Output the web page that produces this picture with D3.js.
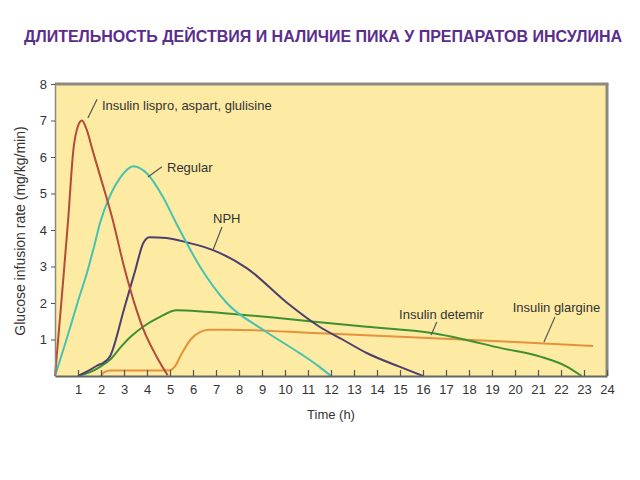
<!DOCTYPE html>
<html>
<head>
<meta charset="utf-8">
<script src="https://cdn.jsdelivr.net/npm/d3@7"></script>
<style>
  html, body { margin: 0; padding: 0; background: #ffffff; }
  svg { display: block; }
  text { font-family: "Liberation Sans", Arial, sans-serif; }
</style>
</head>
<body>
<svg id="chart" width="640" height="480"></svg>
<script>
// ---------- DATA ----------
const title = "ДЛИТЕЛЬНОСТЬ ДЕЙСТВИЯ И НАЛИЧИЕ ПИКА У ПРЕПАРАТОВ ИНСУЛИНА";
const xLabel = "Time (h)";
const yLabel = "Glucose infusion rate  (mg/kg/min)";
const xTicks = d3.range(1, 25);
const yTicks = [1, 2, 3, 4, 5, 6, 7, 8];

const seriesNames = ["Insulin lispro, aspart, glulisine", "Regular", "NPH", "Insulin detemir", "Insulin glargine"];

const lisproT = [0, 0.3, 0.57, 0.8, 1.0, 1.17, 1.35, 1.65, 2.0, 2.5, 3.0, 3.4, 3.83, 4.4, 4.9];
const lisproV = [0, 2.2, 4.27, 6.2, 6.85, 7.0, 6.8, 6.15, 5.4, 4.3, 3.0, 2.1, 1.3, 0.55, 0.02];

const regularT = [0, 0.5, 1.0, 1.4, 1.7, 1.96, 2.4, 2.85, 3.4, 4.0, 4.7, 5.3, 6.3, 7.47, 9.06, 10.65, 11.5, 12.0];
const regularV = [0, 1.0, 2.05, 2.85, 3.55, 4.2, 4.95, 5.45, 5.75, 5.55, 4.9, 4.15, 3.0, 2.0, 1.26, 0.62, 0.25, 0];

const nphT = [1.0, 1.5, 1.87, 2.1, 2.4, 3.0, 3.5, 3.83, 4.1, 4.85, 5.8, 6.87, 8.35, 10.1, 11.5, 12.5, 13.55, 15.0, 16.0];
const nphV = [0, 0.16, 0.3, 0.36, 0.55, 1.83, 2.92, 3.63, 3.8, 3.78, 3.65, 3.45, 2.95, 2.0, 1.35, 1.0, 0.63, 0.25, 0];

const detemirT = [1.0, 1.5, 1.96, 2.4, 2.83, 3.3, 3.83, 4.5, 5.3, 6.5, 7.75, 9.5, 11.5, 13.55, 16.45, 17.6, 19.35, 21.1, 22.25, 22.9];
const detemirV = [0, 0.1, 0.25, 0.45, 0.77, 1.08, 1.35, 1.6, 1.8, 1.76, 1.7, 1.6, 1.47, 1.35, 1.17, 1.03, 0.77, 0.53, 0.26, 0];

const glargineT = [2.0, 2.15, 2.4, 3.0, 4.0, 5.0, 5.2, 5.5, 5.9, 6.3, 6.7, 7.5, 11.5, 16.0, 20.0, 23.4];
const glargineV = [0, 0.11, 0.15, 0.15, 0.15, 0.16, 0.25, 0.6, 1.0, 1.2, 1.27, 1.27, 1.17, 1.05, 0.93, 0.82];

// ---------- LAYOUT ----------
const plot = { left: 55, right: 607, top: 84, bottom: 376 };
const colors = ["#b34a3a", "#45c2b1", "#4b3f6e", "#3f8f33", "#e6923c"];

const svg = d3.select("#chart");
const x = d3.scaleLinear().domain([0, 24]).range([plot.left, plot.right]);
const y = d3.scaleLinear().domain([0, 8]).range([plot.bottom, plot.top]);

// title
svg.append("text")
  .attr("x", 323).attr("y", 42)
  .attr("text-anchor", "middle")
  .attr("font-size", 16).attr("font-weight", "bold")
  .attr("fill", "#5b2d8c")
  .text(title);

// plot background
svg.append("rect")
  .attr("x", x(0)).attr("y", y(8))
  .attr("width", x(24) - x(0)).attr("height", y(0) - y(8))
  .attr("fill", "#fdeaa3");

// frame: top and right (thick grey)
svg.append("line").attr("x1", x(0)).attr("x2", x(24) + 1.5).attr("y1", y(8)).attr("y2", y(8))
  .attr("stroke", "#8c8a80").attr("stroke-width", 3);
svg.append("line").attr("x1", x(24)).attr("x2", x(24)).attr("y1", y(8)).attr("y2", y(0))
  .attr("stroke", "#8c8a80").attr("stroke-width", 3);

// lines
const series = [
  { t: lisproT, v: lisproV },
  { t: regularT, v: regularV },
  { t: nphT, v: nphV },
  { t: detemirT, v: detemirV },
  { t: glargineT, v: glargineV }
];
const line = d3.line().x(d => x(d[0])).y(d => y(d[1])).curve(d3.curveMonotoneX);
const drawOrder = [4, 3, 2, 1, 0];
drawOrder.forEach(i => {
  const s = series[i];
  svg.append("path")
    .datum(s.t.map((t, j) => [t, s.v[j]]))
    .attr("d", line)
    .attr("fill", "none")
    .attr("stroke", colors[i])
    .attr("stroke-width", 2)
    .attr("stroke-linejoin", "round");
});

// y axis
const yAxis = svg.append("g")
  .attr("transform", `translate(${x(0)},0)`)
  .call(d3.axisLeft(y).tickValues(yTicks).tickSize(4).tickPadding(4).tickSizeOuter(0));
yAxis.select(".domain").attr("stroke", "#8c8a80").attr("stroke-width", 1.5);
yAxis.selectAll(".tick line").attr("stroke", "#555");
yAxis.selectAll(".tick text").attr("font-size", 13).attr("fill", "#333")
  .attr("font-family", "'Liberation Sans', Arial, sans-serif");

// x axis
const xAxis = svg.append("g")
  .attr("transform", `translate(0,${y(0)})`)
  .call(d3.axisBottom(x).tickValues(xTicks).tickSize(-6).tickPadding(9).tickSizeOuter(0));
xAxis.select(".domain").attr("stroke", "#666").attr("stroke-width", 2);
xAxis.selectAll(".tick line").attr("stroke", "#555").attr("stroke-width", 1.2);
xAxis.selectAll(".tick text").attr("font-size", 13).attr("fill", "#333")
  .attr("font-family", "'Liberation Sans', Arial, sans-serif");

// axis titles
svg.append("text")
  .attr("x", 331).attr("y", 419)
  .attr("text-anchor", "middle")
  .attr("font-size", 13).attr("fill", "#333")
  .text(xLabel);
svg.append("text")
  .attr("transform", "translate(25,231) rotate(-90)")
  .attr("text-anchor", "middle")
  .attr("font-size", 14).attr("fill", "#333")
  .text(yLabel);

// annotations (label anchor and leader line in data units)
const annotations = [
  { label: 0, tx: 2.04, ty: 7.3, l1: [1.83, 7.58], l2: [1.43, 7.07] },
  { label: 1, tx: 4.87, ty: 5.58, l1: [4.65, 5.73], l2: [4.04, 5.45] },
  { label: 2, tx: 6.87, ty: 4.2, l1: [7.26, 4.08], l2: [6.87, 3.45] },
  { label: 3, tx: 14.96, ty: 1.56, l1: [16.6, 1.48], l2: [16.35, 1.12] },
  { label: 4, tx: 19.9, ty: 1.75, l1: [21.74, 1.62], l2: [21.26, 0.93] }
];
annotations.forEach(a => {
  svg.append("line")
    .attr("x1", x(a.l1[0])).attr("y1", y(a.l1[1]))
    .attr("x2", x(a.l2[0])).attr("y2", y(a.l2[1]))
    .attr("stroke", "#555").attr("stroke-width", 1.2);
  svg.append("text")
    .attr("x", x(a.tx)).attr("y", y(a.ty))
    .attr("font-size", 13).attr("fill", "#333")
    .text(seriesNames[a.label]);
});
</script>
</body>
</html>
